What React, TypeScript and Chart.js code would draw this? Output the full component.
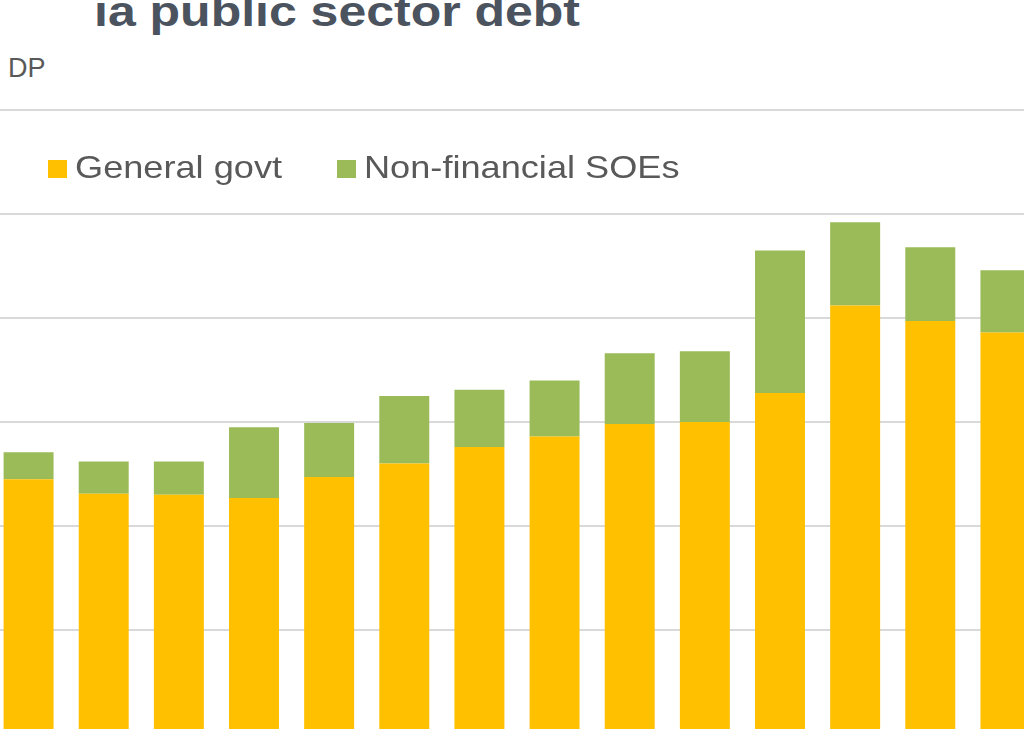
import React, { useEffect, useRef } from "react";
import { Chart, registerables } from "chart.js";

Chart.register(...registerables);

// ---- Data ----
const categories = ["2008", "2009", "2010", "2011", "2012", "2013", "2014", "2015", "2016", "2017", "2018", "2019", "2020", "2021"];
const seriesNames = ["General govt", "Non-financial SOEs"];
const generalGovt = [54.5, 53.1, 53.0, 52.7, 54.7, 56.0, 57.6, 58.6, 59.8, 60.0, 62.8, 71.2, 69.7, 68.6];
const nonFinancialSOEs = [2.6, 3.1, 3.2, 6.8, 5.2, 6.5, 5.5, 5.4, 6.8, 6.8, 13.7, 8.0, 7.1, 6.0];
const seriesColors = ["#FFC000", "#9BBB59"];
const yMin = 0;
const yMax = 90;
const yStep = 10;
const titleText = "ia public sector debt";
const subtitleText = "DP";

export default function App() {
  const canvasRef = useRef<HTMLCanvasElement | null>(null);

  useEffect(() => {
    const canvas = canvasRef.current;
    if (!canvas) return;
    const chart = new Chart(canvas, {
      type: "bar",
      data: {
        labels: categories,
        datasets: [
          {
            label: seriesNames[0],
            data: generalGovt,
            backgroundColor: seriesColors[0],
            borderWidth: 0,
            barPercentage: 0.665,
            categoryPercentage: 1,
          },
          {
            label: seriesNames[1],
            data: nonFinancialSOEs,
            backgroundColor: seriesColors[1],
            borderWidth: 0,
            barPercentage: 0.665,
            categoryPercentage: 1,
          },
        ],
      },
      options: {
        animation: false,
        responsive: false,
        maintainAspectRatio: false,
        devicePixelRatio: 1,
        layout: { padding: { top: 10, bottom: 10, left: 0, right: 0 } },
        plugins: {
          legend: { display: false },
          title: { display: false },
          tooltip: { enabled: false },
        },
        scales: {
          x: {
            stacked: true,
            display: false,
          },
          y: {
            stacked: true,
            min: yMin,
            max: yMax,
            ticks: { stepSize: yStep, display: false },
            grid: { color: "#d9d9d9", lineWidth: 2, drawTicks: false },
            border: { display: false },
            afterFit: (scale: any) => {
              scale.width = 0;
            },
          },
        },
      },
    });
    return () => chart.destroy();
  }, []);

  const textFont = '"Liberation Sans", Arial, sans-serif';

  return (
    <div
      style={{
        position: "fixed",
        left: 0,
        top: 0,
        width: 1024,
        height: 729,
        overflow: "hidden",
        background: "#ffffff",
      }}
    >
      <canvas
        ref={canvasRef}
        width={1052}
        height={956}
        style={{ position: "absolute", left: -9, top: 100, width: 1052, height: 956 }}
      />
      <div
        style={{
          position: "absolute",
          left: 94,
          top: -9,
          fontFamily: textFont,
          fontWeight: "bold",
          fontSize: 42,
          lineHeight: "42px",
          color: "#4b535f",
          whiteSpace: "nowrap",
          transform: "scaleX(1.19)",
          transformOrigin: "left top",
        }}
      >
        {titleText}
      </div>
      <div
        style={{
          position: "absolute",
          left: 8,
          top: 55,
          fontFamily: textFont,
          fontSize: 27,
          lineHeight: "27px",
          color: "#595959",
          whiteSpace: "nowrap",
        }}
      >
        {subtitleText}
      </div>
      {seriesNames.map((name, i) => (
        <div
          key={name}
          style={{
            position: "absolute",
            left: i === 0 ? 48 : 337,
            top: 151,
            height: 32,
            whiteSpace: "nowrap",
          }}
        >
          <span
            style={{
              position: "absolute",
              left: 0,
              top: 9,
              width: 19,
              height: 18,
              background: seriesColors[i],
            }}
          />
          <span
            style={{
              position: "absolute",
              left: 26.5,
              top: 0,
              fontFamily: textFont,
              fontSize: 32,
              lineHeight: "32px",
              color: "#595959",
              transform: "scaleX(1.13)",
              transformOrigin: "left top",
              whiteSpace: "nowrap",
            }}
          >
            {name}
          </span>
        </div>
      ))}
    </div>
  );
}
